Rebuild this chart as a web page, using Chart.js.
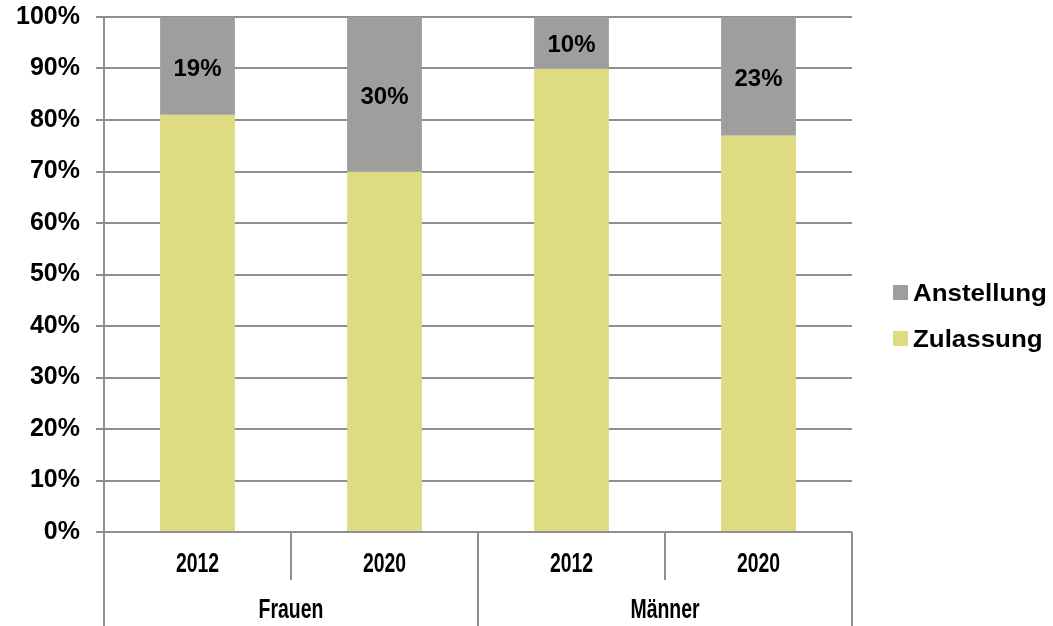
<!DOCTYPE html>
<html>
<head>
<meta charset="utf-8">
<script src="https://cdn.jsdelivr.net/npm/chart.js@4.4.0/dist/chart.umd.min.js"></script>
<style>
  html, body { margin: 0; padding: 0; background: #fff; }
  #wrap { width: 1053px; height: 626px; position: relative; }
</style>
</head>
<body>
<div id="wrap"><canvas id="chart"></canvas></div>
<script>
// data
const years = ['2012', '2020', '2012', '2020'];
const groups = ['Frauen', 'Männer'];
const zulassung = [81, 70, 90, 77];
const anstellung = [19, 30, 10, 23];
const yTicks = [0, 10, 20, 30, 40, 50, 60, 70, 80, 90, 100];

const gridGray = '#8f8f8f';
const fontFam = '"Liberation Sans", Arial, sans-serif';

// condensed text like in the original
function narrowText(ctx, txt, x, y, sx) {
    ctx.save();
    ctx.translate(x, y);
    ctx.scale(sx, 1);
    ctx.fillText(txt, 0, 0);
    ctx.restore();
}

// category labels, group labels, separators, data labels and legend
const extrasPlugin = {
    id: 'extras',
    afterDatasetsDraw(chart) {
        const ctx = chart.ctx;
        const area = chart.chartArea;
        const xs = chart.scales.x;
        const bottom = chart.height;
        const step = (area.right - area.left) / years.length;

        ctx.save();
        ctx.strokeStyle = gridGray;
        ctx.lineWidth = 2;
        // left axis line down to the bottom
        ctx.beginPath();
        ctx.moveTo(area.left, area.top);
        ctx.lineTo(area.left, bottom);
        ctx.stroke();
        // separators
        for (let i = 1; i <= years.length; i++) {
            const sx = area.left + step * i;
            const full = (i % 2 === 0);
            ctx.beginPath();
            ctx.moveTo(sx, area.bottom);
            ctx.lineTo(sx, full ? bottom : area.bottom + 48);
            ctx.stroke();
        }

        ctx.fillStyle = '#000';
        ctx.textAlign = 'center';
        ctx.textBaseline = 'middle';

        // year labels
        ctx.font = 'bold 27px ' + fontFam;
        years.forEach((y, i) => {
            narrowText(ctx, y, xs.getPixelForValue(i), 565, 0.72);
        });

        // group labels
        groups.forEach((g, i) => {
            const gx = area.left + step * (i * 2 + 1);
            narrowText(ctx, g, gx, 611, 0.72);
        });

        // data labels on the gray segments
        ctx.font = 'bold 24px ' + fontFam;
        const meta = chart.getDatasetMeta(0);
        meta.data.forEach((bar, i) => {
            const cy = (bar.y + bar.base) / 2 + 3;
            ctx.fillText(anstellung[i] + '%', bar.x, cy);
        });

        // legend
        const items = [
            { label: chart.data.datasets[0].label, color: chart.data.datasets[0].backgroundColor, y: 293 },
            { label: chart.data.datasets[1].label, color: chart.data.datasets[1].backgroundColor, y: 339 }
        ];
        ctx.textAlign = 'left';
        ctx.font = 'bold 24px ' + fontFam;
        items.forEach(it => {
            ctx.fillStyle = it.color;
            ctx.fillRect(893, it.y - 8, 15, 15);
            ctx.fillStyle = '#000';
            narrowText(ctx, it.label, 913, it.y + 1, 1.08);
        });
        ctx.restore();
    }
};

new Chart(document.getElementById('chart'), {
    type: 'bar',
    data: {
        labels: years,
        datasets: [
            {
                label: 'Anstellung',
                data: anstellung.map((v, i) => [zulassung[i], zulassung[i] + v]),
                backgroundColor: '#9e9e9e',
                barPercentage: 0.8,
                categoryPercentage: 0.5
            },
            {
                label: 'Zulassung',
                data: zulassung,
                backgroundColor: '#dedb82',
                barPercentage: 0.8,
                categoryPercentage: 0.5
            }
        ]
    },
    options: {
        responsive: true,
        maintainAspectRatio: false,
        animation: false,
        layout: { padding: { top: 17, right: 201, left: 0, bottom: 0 } },
        plugins: {
            legend: { display: false },
            tooltip: { enabled: false }
        },
        scales: {
            x: {
                stacked: true,
                grid: { display: false, drawTicks: false },
                border: { display: false },
                ticks: { display: false },
                afterFit(scale) {
                    scale.height = 94;
                    scale.paddingLeft = 0;
                    scale.paddingRight = 0;
                }
            },
            y: {
                stacked: false,
                min: 0,
                max: 100,
                afterBuildTicks(scale) {
                    scale.ticks = yTicks.map(v => ({ value: v }));
                },
                grid: {
                    color: gridGray,
                    lineWidth: 2,
                    tickLength: 8,
                    drawTicks: true
                },
                border: { display: true, color: gridGray, width: 2 },
                ticks: {
                    color: '#000',
                    font: { family: fontFam, size: 25, weight: 'bold' },
                    padding: 16,
                    callback: v => v + '%'
                },
                afterFit(scale) {
                    scale.width = 104;
                    scale.paddingTop = 0;
                    scale.paddingBottom = 0;
                }
            }
        }
    },
    plugins: [extrasPlugin]
});
</script>
</body>
</html>
